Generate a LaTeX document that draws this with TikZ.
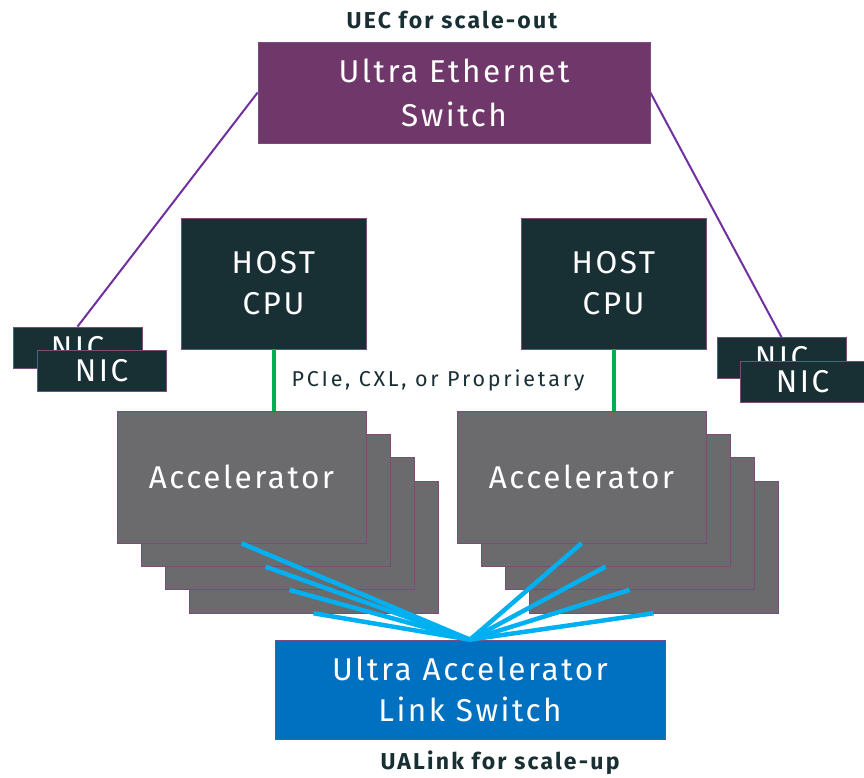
\documentclass[tikz,border=0pt]{standalone}
\usepackage{fontspec}
\setmainfont{Fira Sans}
\newfontfamily\boxfont[LetterSpace=8]{Fira Sans}
\newfontfamily\tagfont[LetterSpace=9.5]{Fira Sans}
\newfontfamily\lblfont[LetterSpace=13]{Fira Sans}
\usetikzlibrary{calc}
\definecolor{uepurple}{RGB}{112,56,106}
\definecolor{hostteal}{RGB}{24,47,51}
\definecolor{accgray}{RGB}{107,107,110}
\definecolor{uablue}{RGB}{0,112,192}
\definecolor{edgepurple}{RGB}{122,76,126}
\definecolor{ethline}{RGB}{112,48,160}
\definecolor{pcigreen}{RGB}{0,176,80}
\definecolor{linkcyan}{RGB}{0,176,240}

\begin{document}
\begin{tikzpicture}[
  x=1pt, y=-1pt,
  box/.style={draw=edgepurple, line width=0.7pt, inner sep=0pt, align=center,
              text=white, font=\boxfont\fontsize{31.5}{41}\selectfont},
  switchbox/.style={box, minimum width=392pt, minimum height=101pt},
  host/.style={box, fill=hostteal, minimum width=185pt, minimum height=131pt},
  acc/.style={box, fill=accgray, minimum width=249pt, minimum height=132pt},
  nic/.style={box, fill=hostteal, minimum width=129pt, minimum height=41pt},
  scaletag/.style={font=\tagfont\fontsize{23}{27}\selectfont\bfseries, text=hostteal},
  lbl/.style={font=\lblfont\fontsize{21.5}{25}\selectfont, text=hostteal},
  ethl/.style={ethline, line width=2pt},
  pcil/.style={pcigreen, line width=4pt},
  ual/.style={linkcyan, line width=4.5pt}]

\useasboundingbox (0,0) rectangle (864,778);

% ---------- scale-out ----------
\node[switchbox, fill=uepurple] (ue) at (454,92.5) {Ultra Ethernet\\[3pt]Switch};
\node[scaletag] (uetag) at (452,20) {UEC for scale-out};

% ---------- hosts ----------
\node[host] (cpuL) at (273.5,283.5) {HOST\\CPU};
\node[host] (cpuR) at (613.5,283.5) {HOST\\CPU};

% ---------- NICs ----------
\node[nic] (nicLb) at (77.5,347.5) {NIC};
\node[nic] (nicLf) at (101.5,370.5) {NIC};
\node[nic] (nicRb) at (781.5,358) {NIC};
\node[nic, minimum width=125pt] (nicRf) at (802.5,382) {NIC};

% ---------- accelerator stacks ----------
\foreach \i in {3,2,1} {
  \node[acc] (accL\i) at ($(241.5,477)+(24*\i,23.3*\i)$) {};
}
\node[acc] (accL0) at (241.5,477) {Accelerator};
\foreach \i in {3,2,1} {
  \node[acc] (accR\i) at ($(581.5,477)+(24*\i,23.3*\i)$) {};
}
\node[acc] (accR0) at (581.5,477) {Accelerator};

% ---------- scale-up ----------
\node[switchbox, fill=uablue, minimum width=390pt, minimum height=99pt] (ua)
  at (470,689.5) {Ultra Accelerator\\Link Switch};
\node[scaletag] (uatag) at (500,763) {UALink for scale-up};

% ---------- links ----------
\draw[ethl] (ue.west) -- (nicLb.north);
\draw[ethl] (ue.east) -- (nicRb.north);
\draw[pcil] (cpuL.south) -- (cpuL.south |- accL0.north);
\draw[pcil] (cpuR.south) -- (cpuR.south |- accR0.north);
\node[lbl] (pcie) at (438,380) {PCIe, CXL, or Proprietary};
\foreach \i in {0,...,3} {
  \draw[ual] (accL\i.south) -- (ua.north);
  \draw[ual] (accR\i.south) -- (ua.north);
}
\end{tikzpicture}
\end{document}
